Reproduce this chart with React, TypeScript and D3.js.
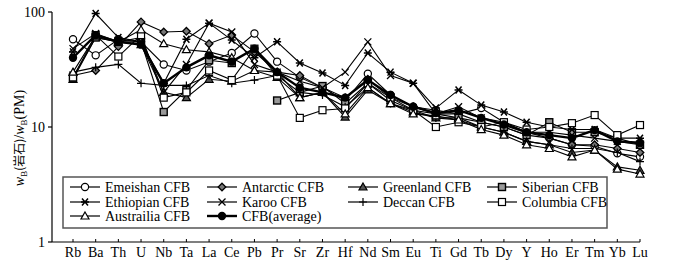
import * as React from 'react';
import * as d3 from 'd3';

const elements = ['Rb', 'Ba', 'Th', 'U', 'Nb', 'Ta', 'La', 'Ce', 'Pb', 'Pr', 'Sr', 'Zr', 'Hf', 'Nd', 'Sm', 'Eu', 'Ti', 'Gd', 'Tb', 'Dy', 'Y', 'Ho', 'Er', 'Tm', 'Yb', 'Lu'];
const yTicks = [1, 10, 100];

const emeishan = [58, 42, 58, 55, 35, 31, 37, 44, 65, 37, 27, 22, 17, 29, 19, 15, 14, 13, 14.6, 11, 9, 8, 7, 6.8, 5.9, 5.5];
const antarctic = [28, 31, 50, 82, 67, 68, 53, 63, 45, 30, 28, 22, 18, 26, 18, 15, 13, 13, 11, 10, 8.5, 8, 7, 7, 6.5, 6];
const greenland = [26, 60, 55, 52, 20, 18, 26, 25, 31, 27, 18, 20, 12.2, 21, 16, 13.5, 12, 12, 10, 9, 7.5, 7, 6, 6.3, 4.5, 4.2];
const siberian = [27, 60, 55, 55, 13.5, 21, 38, 36, null, 17, 20, 22.7, 16, 24, 17, 14, 13, 12, 11, 10, 8.5, 11, 9, 9, 8, 7];
const ethiopian = [45, 97, 60, 55, 24, 58, 80, 57, 40, 55, 36, 29.5, 23, 44, 30, 24, 14.6, 21, 15.5, 13.5, 11, 10, 9.5, 9.5, 8, 8];
const karoo = [48, 65, 55, 60, 20, 35, 80, 67, 35, 30, 25, 22, 30, 55, 28, 24, 13, 15, 12, 11, 9, 9, 8.5, 8, 7.5, 7];
const deccan = [30, 33, 35, 24, 23, 23, 28, 24, 25.6, 28, 20, 19, 15, 22, 16, 14, 12, 11.5, 10, 9, 7.5, 7, 6.5, 6.5, 6, 5];
const columbia = [27, 63, 41, 63, 18, 20, 31, 25.6, 48, 28, 12, 14, 14.5, 24, 18, 14, 10, 11, 10, 11, 9.5, 10, 10.8, 12.7, 8.5, 10.4];
const australia = [30, 62, 55, 70, 53, 47, 45, 40, 31, 30, 18, 20, 13, 22, 16, 13, 12.5, 11.5, 9.5, 8.5, 7, 6.5, 5.5, 6.3, 4.3, 3.9];
const average = [40, 63, 55, 52, 24, 33, 42, 37, 48, 30, 22, 20, 18, 25.6, 19, 15, 13.2, 14, 12, 10.5, 9, 8.5, 8, 9.4, 7.5, 7.3];

const series = [
	{name: 'Emeishan CFB', values: emeishan, marker: 'circle'},
	{name: 'Antarctic CFB', values: antarctic, marker: 'diamond'},
	{name: 'Greenland CFB', values: greenland, marker: 'triFill'},
	{name: 'Siberian CFB', values: siberian, marker: 'squareGray'},
	{name: 'Ethiopian CFB', values: ethiopian, marker: 'asterisk'},
	{name: 'Karoo CFB', values: karoo, marker: 'cross'},
	{name: 'Deccan CFB', values: deccan, marker: 'plus'},
	{name: 'Columbia CFB', values: columbia, marker: 'square'},
	{name: 'Austrailia CFB', values: australia, marker: 'triangle'},
	{name: 'CFB(average)', values: average, marker: 'dot'},
];

const FONT = '"Times New Roman", Tinos, "Liberation Serif", serif';

const Marker = ({type, x, y}) => {
	const s = 'black';
	switch (type) {
		case 'circle':
			return <circle cx={x} cy={y} r={3.6} fill="white" stroke={s} strokeWidth={1.2}/>;
		case 'dot':
			return <circle cx={x} cy={y} r={4.2} fill={s}/>;
		case 'diamond':
			return <path d={`M${x},${y - 3.8}L${x + 3.8},${y}L${x},${y + 3.8}L${x - 3.8},${y}Z`} fill="#777" stroke={s} strokeWidth={1.3}/>;
		case 'triangle':
			return <path d={`M${x},${y - 4}L${x + 4},${y + 3}L${x - 4},${y + 3}Z`} fill="white" stroke={s} strokeWidth={1.2}/>;
		case 'triFill':
			return <path d={`M${x},${y - 4}L${x + 4},${y + 3}L${x - 4},${y + 3}Z`} fill="#555" stroke={s} strokeWidth={1.2}/>;
		case 'square':
			return <rect x={x - 3.5} y={y - 3.5} width={7} height={7} fill="white" stroke={s} strokeWidth={1.2}/>;
		case 'squareGray':
			return <rect x={x - 3.5} y={y - 3.5} width={7} height={7} fill="#999" stroke={s} strokeWidth={1.4}/>;
		case 'asterisk':
			return <path d={`M${x - 4},${y}H${x + 4}M${x - 3},${y - 3.5}L${x + 3},${y + 3.5}M${x + 3},${y - 3.5}L${x - 3},${y + 3.5}`} stroke={s} strokeWidth={1.5}/>;
		case 'cross':
			return <path d={`M${x - 3.5},${y - 3.5}L${x + 3.5},${y + 3.5}M${x + 3.5},${y - 3.5}L${x - 3.5},${y + 3.5}`} stroke={s} strokeWidth={1.3}/>;
		case 'plus':
			return <path d={`M${x - 4},${y}H${x + 4}M${x},${y - 4}V${y + 4}`} stroke={s} strokeWidth={1.2}/>;
		default:
			return null;
	}
};

const App = () => {
	const x = d3.scalePoint().domain(elements).range([73, 640]);
	const y = d3.scaleLog().domain([1, 100]).range([242, 12]);

	const line = d3.line<any>()
		.defined(d => d != null)
		.x((d, i) => x(elements[i]))
		.y(d => y(d));

	// legend placement: 4 columns x 3 rows
	const legendCols = [70, 207, 348, 487];
	const legendRows = [187, 202, 216];
	const legendOrder = [
		[0, 0, 0], [1, 1, 0], [2, 2, 0], [3, 3, 0],
		[4, 0, 1], [5, 1, 1], [6, 2, 1], [7, 3, 1],
		[8, 0, 2], [9, 1, 2],
	];

	return (
		<svg width={700} height={267} style={{position: 'absolute', left: 0, top: 0, background: 'white', fontFamily: FONT}}>
			{/* axes */}
			<line x1={52} y1={12} x2={52} y2={242} stroke="black" strokeWidth={1.2}/>
			<line x1={52} y1={242} x2={640} y2={242} stroke="black" strokeWidth={1.2}/>
			{yTicks.map(t => (
				<g key={t}>
					<line x1={48} x2={52} y1={y(t)} y2={y(t)} stroke="black" strokeWidth={1.2}/>
					<text x={45} y={y(t)} dy="0.35em" textAnchor="end" fontSize={14}>{t}</text>
				</g>
			))}
			{elements.map(e => (
				<g key={e}>
					<line x1={x(e)} x2={x(e)} y1={242} y2={239} stroke="black"/>
					<text x={x(e)} y={257} textAnchor="middle" fontSize={14}>{e}</text>
				</g>
			))}
			<text transform="translate(24,138) rotate(-90)" textAnchor="middle" fontSize={14}>
				<tspan fontStyle="italic">w</tspan>
				<tspan fontSize={9} dy={3}>B</tspan>
				<tspan fontSize={12} dy={-3} fontFamily="Noto Sans CJK SC">(岩石)</tspan>
				<tspan>/</tspan>
				<tspan fontStyle="italic">w</tspan>
				<tspan fontSize={9} dy={3}>B</tspan>
				<tspan dy={-3}>(PM)</tspan>
			</text>

			{/* series */}
			{series.map(s => (
				<g key={s.name}>
					<path d={line(s.values as any)} fill="none" stroke="black"
						strokeWidth={s.marker === 'dot' ? 2.4 : 1.1}/>
					{s.values.map((v, i) => v == null ? null :
						<Marker key={i} type={s.marker} x={x(elements[i])} y={y(v)}/>
					)}
				</g>
			))}

			{/* legend */}
			<rect x={63} y={177} width={544} height={51} fill="white" stroke="#555" strokeWidth={1.5}/>
			{legendOrder.map(([si, c, r]) => {
				const s = series[si];
				const lx = legendCols[c];
				const ly = legendRows[r];
				return (
					<g key={s.name}>
						<line x1={lx} x2={lx + 30} y1={ly} y2={ly} stroke="black"
							strokeWidth={s.marker === 'dot' ? 2.4 : 1.2}/>
						<Marker type={s.marker} x={lx + 15} y={ly}/>
						<text x={lx + 35} y={ly} dy="0.35em" fontSize={14}>{s.name}</text>
					</g>
				);
			})}
		</svg>
	);
};

export default App;
